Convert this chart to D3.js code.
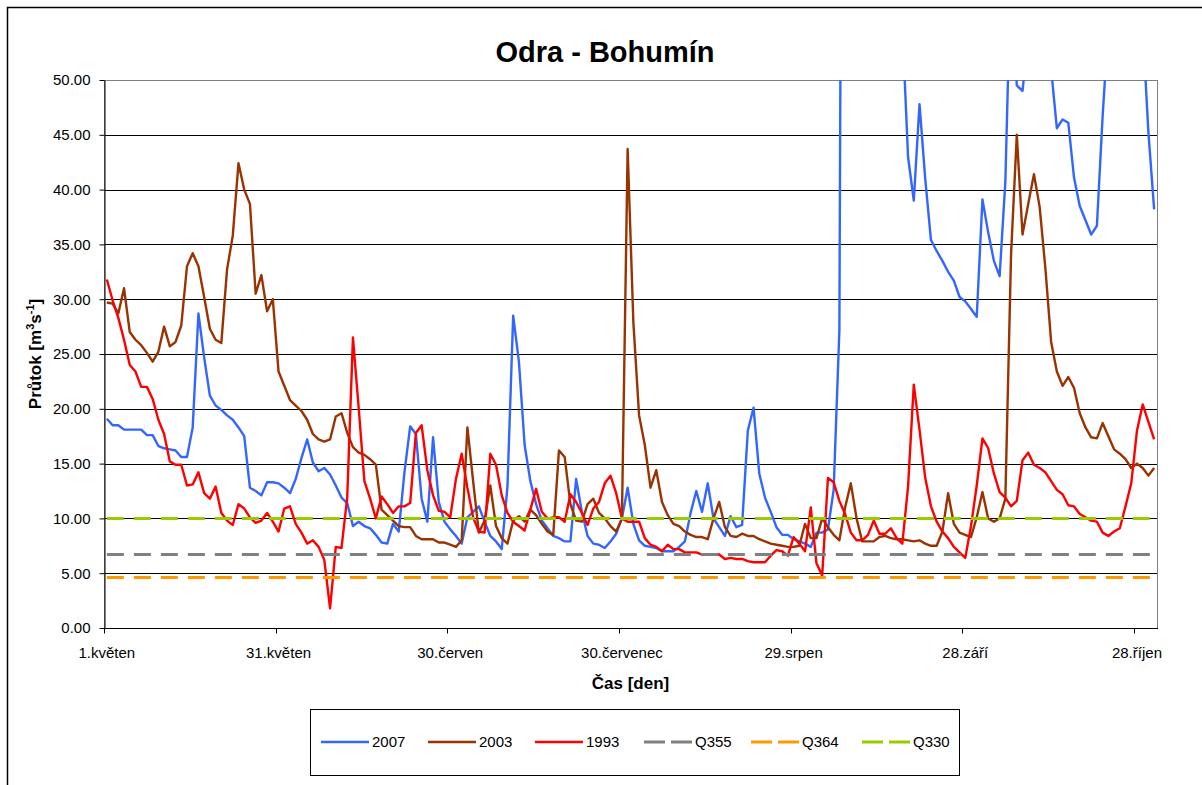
<!DOCTYPE html>
<html lang="cs">
<head>
<meta charset="utf-8">
<title>Odra - Bohumín</title>
<script src="https://d3js.org/d3.v7.min.js"></script>
<style>
  body { margin: 0; background: #fff; }
  svg { display: block; font-family: "Liberation Sans", Arial, sans-serif; }
  .axis text { font-size: 15px; fill: #000; }
  .axis line, .axis path { stroke: #000; }
</style>
</head>
<body>
<div id="chart"></div>
<script>
// x axis: one category per day, 1 May .. 31 Oct
const dayCount = 184;
const tickDays = [0, 30, 60, 90, 120, 150, 180];
const tickLabels = ["1.květen", "31.květen", "30.červen", "30.červenec", "29.srpen", "28.září", "28.říjen"];
const yTicks = [0, 5, 10, 15, 20, 25, 30, 35, 40, 45, 50];

// daily discharge [m3/s] (values above 50 are off the chart)
const flow2007 = [
  19.1, 18.5, 18.5, 18.1, 18.1, 18.1, 18.1, 17.6, 17.6, 16.6, 16.4, 16.3, 16.2, 15.6, 15.6, 18.3,
  28.7, 24.7, 21.2, 20.3, 19.9, 19.4, 19.0, 18.3, 17.5, 12.8, 12.5, 12.1, 13.3, 13.3, 13.2, 12.8,
  12.3, 13.6, 15.5, 17.2, 15.1, 14.3, 14.6, 14.0, 13.0, 11.9, 11.4, 9.3, 9.7, 9.3, 9.1, 8.5,
  7.8, 7.7, 9.5, 8.8, 14.2, 18.4, 17.7, 11.8, 9.7, 17.4, 11.5, 9.7, 9.0, 8.4, 7.7, 10.1,
  10.6, 11.1, 9.7, 8.4, 7.9, 7.2, 12.9, 28.5, 24.3, 16.7, 13.4, 11.3, 9.8, 9.1, 8.4, 8.2,
  7.9, 7.9, 13.6, 10.6, 8.4, 7.7, 7.6, 7.3, 7.9, 8.6, 10.0, 12.8, 9.5, 8.0, 7.5, 7.4,
  7.3, 7.0, 7.0, 7.0, 7.4, 7.9, 10.5, 12.5, 10.6, 13.2, 10.0, 9.2, 8.4, 10.2, 9.2, 9.4,
  18.0, 20.1, 14.1, 11.9, 10.6, 9.2, 8.5, 8.5, 8.1, 7.9, 7.7, 7.4, 8.7, 8.7, 9.0, 12.6,
  27.2, 160, 140, 120, 105, 95, 88, 80, 72, 66, 60, 55, 43.0, 39.0, 47.8, 41.0,
  35.4, 34.4, 33.5, 32.5, 31.7, 30.2, 29.8, 29.1, 28.4, 39.1, 36.1, 33.5, 32.1, 40.7, 61, 49.5,
  49.0, 54, 62, 65, 58, 51, 45.6, 46.4, 46.1, 41.1, 38.5, 37.2, 35.9, 36.7, 46.7, 55,
  62, 68, 64, 60, 57, 54.8, 45.2, 38.2
];
const flow2003 = [
  29.7, 29.6, 28.7, 31.0, 27.0, 26.3, 25.8, 25.1, 24.3, 25.2, 27.5, 25.7, 26.1, 27.6, 33.0, 34.2,
  33.0, 30.2, 27.3, 26.3, 26.0, 32.7, 35.8, 42.4, 40.0, 38.7, 30.5, 32.2, 28.9, 30.0, 23.4, 22.1,
  20.8, 20.3, 19.8, 19.0, 17.7, 17.2, 17.0, 17.2, 19.3, 19.6, 17.8, 16.5, 16.0, 15.8, 15.4, 14.9,
  10.8, 10.3, 9.8, 9.3, 9.2, 9.2, 8.4, 8.1, 8.1, 8.1, 7.8, 7.8, 7.6, 7.4, 8.0, 18.3,
  13.4, 8.7, 9.8, 13.0, 9.3, 8.2, 7.7, 9.8, 10.2, 9.7, 10.8, 10.3, 9.5, 8.8, 8.5, 16.2,
  15.6, 11.3, 9.8, 9.7, 11.3, 11.8, 10.5, 10.0, 9.3, 8.8, 10.0, 43.7, 27.9, 19.4, 16.7, 12.8,
  14.4, 11.5, 10.3, 9.5, 9.3, 8.8, 8.5, 8.3, 8.3, 8.1, 10.0, 11.5, 9.2, 8.4, 8.3, 8.6,
  8.4, 8.4, 8.1, 7.9, 7.7, 7.6, 7.5, 7.4, 7.4, 7.5, 9.5, 8.2, 8.2, 10.0, 9.2, 8.5,
  8.0, 11.0, 13.2, 10.0, 7.9, 7.9, 7.9, 8.3, 8.4, 8.2, 8.1, 8.1, 8.0, 7.9, 8.0, 7.7,
  7.5, 7.5, 8.8, 12.3, 9.5, 8.7, 8.5, 8.3, 10.1, 12.4, 10.0, 9.7, 10.0, 11.8, 34.1, 45.0,
  35.9, 38.7, 41.4, 38.4, 32.8, 26.1, 23.4, 22.1, 22.9, 21.9, 19.6, 18.3, 17.4, 17.3, 18.7, 17.5,
  16.3, 15.9, 15.4, 14.6, 15.0, 14.6, 13.9, 14.6
];
const flow1993 = [
  31.8, 29.9, 28.3, 26.3, 24.0, 23.4, 22.0, 22.0, 20.9, 19.0, 17.7, 15.2, 14.9, 14.9, 13.0, 13.1,
  14.2, 12.3, 11.8, 12.9, 10.5, 9.8, 9.4, 11.3, 10.9, 10.1, 9.6, 9.8, 10.5, 9.7, 8.8, 10.9,
  11.1, 9.5, 8.7, 7.7, 8.0, 7.4, 6.2, 1.8, 7.4, 7.3, 11.9, 26.5, 20.1, 13.4, 11.8, 10.0,
  12.0, 11.3, 10.5, 11.1, 11.1, 11.4, 17.8, 18.5, 14.4, 12.1, 10.7, 10.6, 10.1, 13.6, 15.9, 12.8,
  10.1, 8.8, 8.7, 15.9, 14.9, 12.1, 10.5, 9.7, 9.3, 8.9, 10.8, 12.7, 10.6, 10.0, 10.1, 10.1,
  9.7, 12.2, 11.5, 10.5, 9.4, 10.9, 11.5, 13.2, 13.9, 12.3, 10.0, 9.7, 9.7, 9.7, 8.2, 7.6,
  7.4, 7.0, 7.6, 7.2, 7.2, 6.9, 6.9, 6.9, 6.7, 6.7, 6.7, 6.7, 6.3, 6.4, 6.3, 6.3,
  6.1, 6.0, 6.0, 6.0, 6.6, 7.1, 7.0, 6.6, 8.3, 7.7, 7.0, 11.0, 5.9, 4.8, 13.7, 13.3,
  11.6, 10.4, 8.7, 8.0, 8.0, 8.5, 9.8, 8.6, 8.6, 9.1, 8.2, 7.7, 12.9, 22.2, 18.1, 13.7,
  11.1, 9.7, 8.8, 8.2, 7.4, 6.9, 6.4, 9.3, 13.0, 17.3, 16.4, 14.1, 12.4, 11.9, 11.1, 11.6,
  15.3, 16.0, 14.9, 14.6, 14.2, 13.4, 12.6, 12.2, 11.2, 11.1, 10.4, 10.1, 9.8, 9.7, 8.7, 8.4,
  8.8, 9.1, 11.1, 13.2, 18.0, 20.4, 18.8, 17.2
];
// reference discharges
const q355 = 6.7, q364 = 4.6, q330 = 10.0;

const seriesNames = ["2007", "2003", "1993", "Q355", "Q364", "Q330"];
const seriesColors = ["#3366ff", "#993300", "#ff0000", "#808080", "#ff9900", "#99cc00"];

const W = 1202, H = 785;
const plot = { left: 104, top: 80, right: 1157, bottom: 628 };

const svg = d3.select("#chart").append("svg")
  .attr("width", W)
  .attr("height", H);

svg.append("rect").attr("width", W).attr("height", H).attr("fill", "#fff");
// chart frame (right and bottom edges fall outside the picture)
svg.append("rect")
  .attr("x", 7.5).attr("y", 7.5)
  .attr("width", 1300).attr("height", 1000)
  .attr("fill", "none").attr("stroke", "#000").attr("stroke-width", 1.5);

const x = d3.scaleLinear().domain([0, dayCount]).range([plot.left, plot.right]);
const y = d3.scaleLinear().domain([0, 50]).range([plot.bottom, plot.top]);

// gridlines
svg.append("g")
  .selectAll("line")
  .data(yTicks.filter(v => v > 0 && v < 50))
  .join("line")
  .attr("x1", plot.left).attr("x2", plot.right)
  .attr("y1", d => Math.round(y(d)) + 0.5).attr("y2", d => Math.round(y(d)) + 0.5)
  .attr("stroke", "#000").attr("stroke-width", 1);

// plot area border
svg.append("rect")
  .attr("x", plot.left + 0.5).attr("y", plot.top + 0.5)
  .attr("width", plot.right - plot.left).attr("height", plot.bottom - plot.top)
  .attr("fill", "none").attr("stroke", "#808080").attr("stroke-width", 1);

svg.append("clipPath").attr("id", "clip")
  .append("rect")
  .attr("x", plot.left).attr("y", plot.top)
  .attr("width", plot.right - plot.left).attr("height", plot.bottom - plot.top);

const lines = svg.append("g").attr("clip-path", "url(#clip)");
const line = d3.line().x((d, i) => x(i + 0.5)).y(d => y(d));

[flow2007, flow2003, flow1993].forEach((vals, k) => {
  lines.append("path")
    .datum(vals)
    .attr("d", line)
    .attr("fill", "none")
    .attr("stroke", seriesColors[k])
    .attr("stroke-width", 2.4)
    .attr("stroke-linejoin", "round");
});

[q355, q364, q330].forEach((q, k) => {
  lines.append("line")
    .attr("x1", x(0.5)).attr("x2", x(dayCount - 0.5))
    .attr("y1", y(q)).attr("y2", y(q))
    .attr("stroke", seriesColors[k + 3])
    .attr("stroke-width", 3)
    .attr("stroke-dasharray", "17,10");
});

// y axis
svg.append("g")
  .attr("class", "axis")
  .attr("transform", `translate(${plot.left + 0.5},0)`)
  .call(d3.axisLeft(y).tickValues(yTicks).tickFormat(d3.format(".2f")).tickSize(5).tickSizeOuter(0).tickPadding(9))
  .call(g => g.selectAll("text").attr("font-family", null));

// x axis
const xAxis = svg.append("g")
  .attr("class", "axis")
  .attr("transform", `translate(0,${plot.bottom + 0.5})`);
xAxis.append("line")
  .attr("x1", plot.left).attr("x2", plot.right + 1)
  .attr("stroke", "#000");
xAxis.selectAll(".tk")
  .data(tickDays)
  .join("line")
  .attr("class", "tk")
  .attr("x1", d => Math.round(x(d)) + 0.5).attr("x2", d => Math.round(x(d)) + 0.5)
  .attr("y1", 0).attr("y2", 5)
  .attr("stroke", "#000");
xAxis.selectAll("text")
  .data(tickDays)
  .join("text")
  .attr("x", d => x(d + 0.5))
  .attr("y", 29)
  .attr("text-anchor", "middle")
  .text((d, i) => tickLabels[i]);

// titles
svg.append("text")
  .attr("x", 605).attr("y", 62)
  .attr("text-anchor", "middle")
  .attr("font-size", 29).attr("font-weight", "bold")
  .text("Odra - Bohumín");

svg.append("text")
  .attr("x", (plot.left + plot.right) / 2).attr("y", 689)
  .attr("text-anchor", "middle")
  .attr("font-size", 17).attr("font-weight", "bold")
  .text("Čas [den]");

const yTitle = svg.append("text")
  .attr("transform", `translate(41,${(plot.top + plot.bottom) / 2}) rotate(-90)`)
  .attr("text-anchor", "middle")
  .attr("font-size", 17).attr("font-weight", "bold");
yTitle.append("tspan").text("Průtok [m");
yTitle.append("tspan").attr("font-size", 11).attr("dy", -7).text("3");
yTitle.append("tspan").attr("dy", 7).text("s");
yTitle.append("tspan").attr("font-size", 11).attr("dy", -7).text("-1");
yTitle.append("tspan").attr("dy", 7).text("]");

// legend
const legendX = [321, 428, 535, 644, 751, 862];
const legend = svg.append("g");
legend.append("rect")
  .attr("x", 310.5).attr("y", 709.5)
  .attr("width", 649).attr("height", 66)
  .attr("fill", "#fff").attr("stroke", "#000");
const items = legend.selectAll("g.item")
  .data(seriesNames)
  .join("g")
  .attr("class", "item")
  .attr("transform", (d, i) => `translate(${legendX[i]},742)`);
items.append("line")
  .attr("x1", 0).attr("x2", 48)
  .attr("stroke", (d, i) => seriesColors[i])
  .attr("stroke-width", (d, i) => i < 3 ? 2.4 : 3)
  .attr("stroke-dasharray", (d, i) => i < 3 ? null : "21,6");
items.append("text")
  .attr("x", 51).attr("dy", "0.35em")
  .attr("font-size", 15)
  .text(d => d);
</script>
</body>
</html>
